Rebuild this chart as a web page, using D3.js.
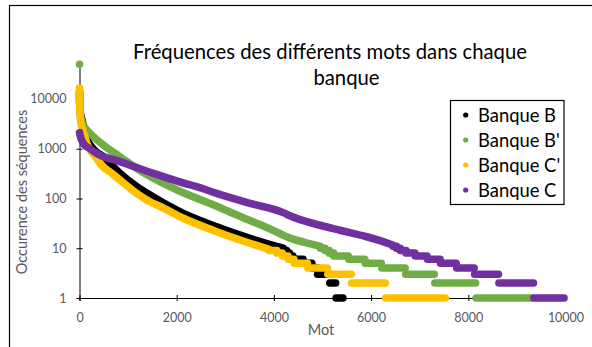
<!DOCTYPE html>
<html><head><meta charset="utf-8">
<script src="https://cdn.jsdelivr.net/npm/d3@7"></script>
<style>body{margin:0;background:#fff}svg{display:block}text{font-family:Lato,"Open Sans",sans-serif}</style>
</head><body><svg id="c" width="592" height="347"></svg>
<script>
// ---- data ----
const seriesNames = ["Banque B", "Banque B'", "Banque C'", "Banque C"];
const xTicks = [0, 2000, 4000, 6000, 8000, 10000];
const yTicks = [1, 10, 100, 1000, 10000];
// isolated top points [rank, count]
const topB = [];
const topBp = [[1, 50000]];
const topCp = [];
const topC = [];
// continuous part [rank, count]
const curveB = [[1,14000],[2,11000],[5,8000],[15,5500],[50,3800],[150,1600],[300,950],[490,690],[833,320],[1177,173],[1450,117],[2136,50],[2823,27],[3508,15.8],[4193,10]];
const curveBp = [[2,12000],[5,7000],[20,4500],[80,3000],[216,2050],[490,1190],[833,690],[1177,400],[1518,255],[2000,150],[2480,95],[2823,70],[3200,48],[3508,36],[3900,25],[4330,16],[4650,13],[4950,11]];
const curveCp = [[1,16500],[2,10000],[8,6000],[25,3500],[80,2200],[150,1300],[216,950],[300,750],[490,430],[630,340],[833,235],[1177,127],[1450,86],[1650,70],[2136,40],[2823,21.5],[3508,12.6],[3900,9.5]];
const curveC = [[1,2100],[10,1900],[80,1280],[216,1000],[350,810],[833,550],[1518,320],[2136,205],[2410,173],[2823,127],[3508,80],[4193,52],[4330,45],[4950,29],[5360,23],[5910,17],[6200,14],[6450,11.5]];
// flat runs [count, firstRank, lastRank]
const runsB = [[9,4200,4260],[8,4260,4320],[7,4320,4390],[6,4390,4600],[5,4600,4780],[4,4780,4900],[3,4900,5140],[2,5150,5270],[1,5280,5420]];
const runsBp = [[10,4960,5050],[9,5050,5140],[8,5140,5230],[7,5230,5530],[6,5540,5870],[5,5880,6210],[4,6220,6700],[3,6710,7300],[2,7310,8150],[1,8160,9300]];
const runsCp = [[9,3900,4060],[8,4060,4170],[7,4180,4290],[6,4300,4410],[5,4420,4690],[4,4700,5100],[3,5110,5590],[2,5600,6290],[1,6300,7530]];
const runsC = [[11,6450,6520],[10,6520,6600],[9,6600,6720],[8,6720,6900],[7,6910,7150],[6,7160,7420],[5,7430,7750],[4,7760,8120],[3,8130,8620],[2,8630,9340],[1,9350,9970]];

const tops = [topB, topBp, topCp, topC];
const curves = [curveB, curveBp, curveCp, curveC];
const runs = [runsB, runsBp, runsCp, runsC];
const colors = ["#000000", "#70AD47", "#FFC000", "#7030A0"];

// ---- drawing ----
const svg = d3.select("#c");
svg.append("rect").attr("x", 9.5).attr("y", 5.5).attr("width", 700).attr("height", 500)
  .attr("fill", "#fff").attr("stroke", "#000").attr("stroke-width", 1.2);

const x = d3.scaleLinear().domain([0, 10000]).range([79.5, 565.5]);
const y = d3.scaleLog().domain([1, 50000]).range([298, 64.2]);

// axes
const gx = svg.append("g").attr("transform", `translate(0,${y(1)})`)
  .call(d3.axisBottom(x).tickValues(xTicks).tickSize(3).tickPadding(12).tickFormat(d3.format("d")));
gx.selectAll(".tick line").attr("y1", -3);
const gy = svg.append("g").attr("transform", `translate(${x(0)},0)`)
  .call(d3.axisLeft(y).tickValues(yTicks).tickSize(3).tickPadding(10).tickFormat(d3.format("d")));
gy.selectAll(".tick line").attr("x1", 3);
[gx, gy].forEach(g => {
  g.select(".domain").attr("stroke", "#000");
  g.selectAll(".tick line").attr("stroke", "#000");
  g.selectAll(".tick text").attr("fill", "#595959").style("font-size", "12.5px").style("font-family", "Lato");
});

const R = 3.8;
const line = d3.line().x(d => x(d[0])).y(d => y(d[1])).curve(d3.curveMonotoneX);
const plot = svg.append("g");
curves.forEach((c, i) => {
  const g = plot.append("g");
  g.append("path").datum(c).attr("d", line).attr("fill", "none")
    .attr("stroke", colors[i]).attr("stroke-width", 2 * R)
    .attr("stroke-linecap", "round").attr("stroke-linejoin", "round");
  g.selectAll("line").data(runs[i]).join("line")
    .attr("x1", d => x(d[1])).attr("x2", d => x(d[2]))
    .attr("y1", d => y(d[0])).attr("y2", d => y(d[0]))
    .attr("stroke", colors[i]).attr("stroke-width", 2 * R).attr("stroke-linecap", "round");
  g.selectAll("circle").data(tops[i]).join("circle")
    .attr("cx", d => x(d[0])).attr("cy", d => y(d[1])).attr("r", R).attr("fill", colors[i]);
});

// title
svg.append("text").attr("x", 330).attr("y", 59).attr("text-anchor", "middle").attr("fill", "#000")
  .style("font-size", "20.3px").text("Fréquences des différents mots dans chaque");
svg.append("text").attr("x", 346.5).attr("y", 85).attr("text-anchor", "middle").attr("fill", "#000")
  .style("font-size", "20.3px").text("banque");

// axis titles
svg.append("text").attr("x", 321).attr("y", 335).attr("text-anchor", "middle")
  .attr("fill", "#595959").style("font-size", "14.5px").text("Mot");
svg.append("text").attr("transform", "translate(27,192) rotate(-90)").attr("text-anchor", "middle")
  .attr("fill", "#595959").style("font-size", "14.5px").text("Occurence des séquences");

// legend
const lg = svg.append("g");
lg.append("rect").attr("x", 450.5).attr("y", 100.5).attr("width", 113.5).attr("height", 104)
  .attr("fill", "#fff").attr("stroke", "#000").attr("stroke-width", 1.2);
seriesNames.forEach((n, i) => {
  const cy = 115 + i * 25;
  lg.append("circle").attr("cx", 465.7).attr("cy", cy).attr("r", 2.6).attr("fill", colors[i]);
  lg.append("text").attr("x", 478).attr("y", cy + 6.6).attr("fill", "#000").style("font-size", "18.4px").text(n);
});
</script></body></html>
